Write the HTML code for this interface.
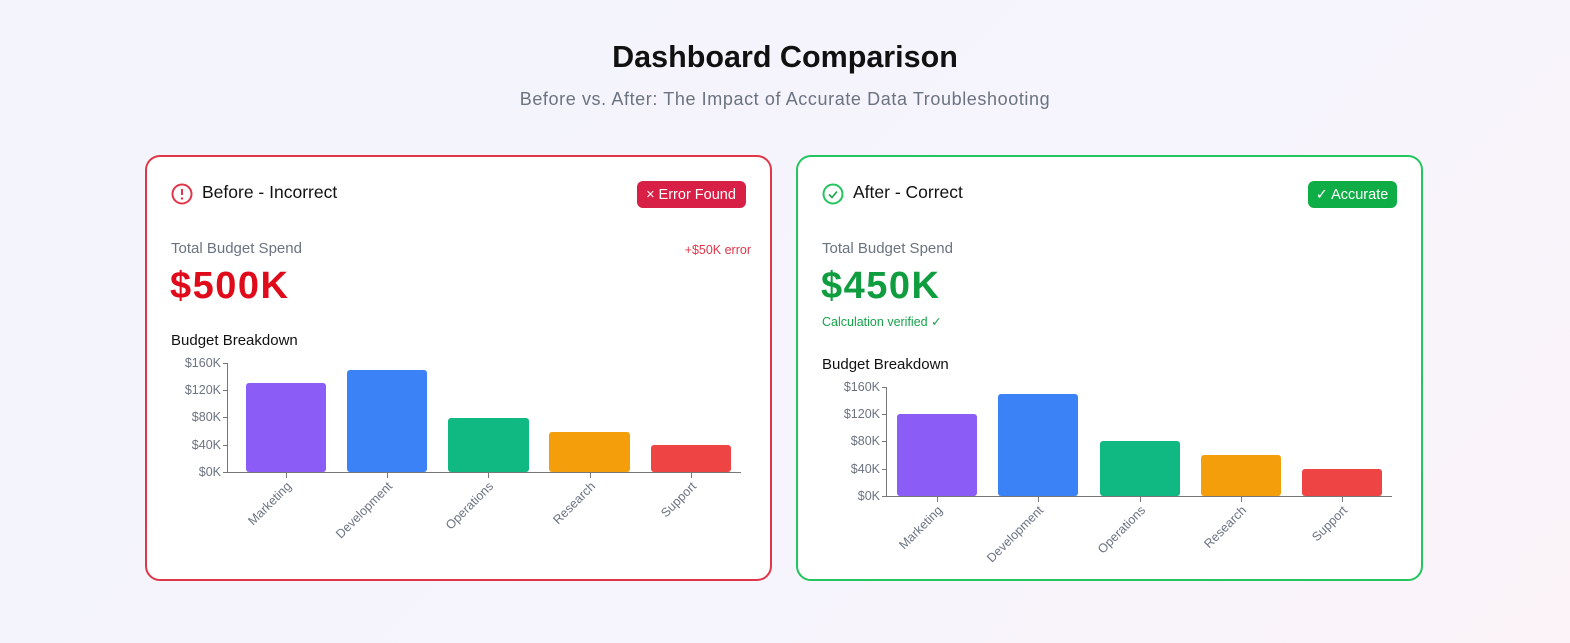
<!DOCTYPE html>
<html><head><meta charset="utf-8"><style>
html,body{margin:0;padding:0;width:1570px;height:643px;overflow:hidden;background:linear-gradient(135deg,#f3f4fc 0%,#f6f4fc 60%,#fbf3f8 100%);}
svg{display:block;font-family:"Liberation Sans",sans-serif;}
</style></head><body>
<svg width="1570" height="643" viewBox="0 0 1570 643">
<text x="785" y="67" text-anchor="middle" font-size="30.5" font-weight="bold" fill="#111">Dashboard Comparison</text>
<text x="785" y="105" text-anchor="middle" font-size="18" letter-spacing="0.6" fill="#6b7280">Before vs. After: The Impact of Accurate Data Troubleshooting</text>

<!-- Left card -->
<rect x="146" y="156" width="625" height="424" rx="14" fill="#fff" stroke="#e0364a" stroke-width="2"/>
<circle cx="182" cy="194" r="9.5" fill="none" stroke="#e0364a" stroke-width="2"/>
<line x1="182" y1="189" x2="182" y2="195" stroke="#e0364a" stroke-width="2"/>
<circle cx="182" cy="198.5" r="1.2" fill="#e0364a"/>
<text x="202" y="198" font-size="17.5" fill="#111">Before - Incorrect</text>
<rect x="637" y="181" width="109" height="27" rx="6" fill="#d81f45"/>
<text x="691" y="199" text-anchor="middle" font-size="14.5" fill="#fff">× Error Found</text>
<text x="171" y="253" font-size="15" fill="#6b7280">Total Budget Spend</text>
<text x="751" y="254" text-anchor="end" font-size="12.5" fill="#e0364a">+$50K error</text>
<text x="170" y="298" font-size="38" font-weight="bold" letter-spacing="1.5" fill="#e00b1a">$500K</text>
<text x="171" y="345" font-size="15" fill="#111">Budget Breakdown</text>
<g font-size="12.5" fill="#6b7280" text-anchor="end">
<text x="221" y="367">$160K</text><text x="221" y="394">$120K</text><text x="221" y="421">$80K</text><text x="221" y="449">$40K</text><text x="221" y="476">$0K</text>
</g>
<g stroke="#777" stroke-width="1">
<line x1="227.5" y1="363" x2="227.5" y2="472"/><line x1="227" y1="472.5" x2="741" y2="472.5"/>
<line x1="223" y1="363.5" x2="227" y2="363.5"/><line x1="223" y1="390.5" x2="227" y2="390.5"/><line x1="223" y1="417.5" x2="227" y2="417.5"/><line x1="223" y1="445.5" x2="227" y2="445.5"/><line x1="223" y1="472.5" x2="227" y2="472.5"/>
<line x1="286.5" y1="472" x2="286.5" y2="478"/><line x1="387.5" y1="472" x2="387.5" y2="478"/><line x1="488.5" y1="472" x2="488.5" y2="478"/><line x1="590.5" y1="472" x2="590.5" y2="478"/><line x1="691.5" y1="472" x2="691.5" y2="478"/>
</g>
<rect x="246" y="383" width="80" height="89" rx="3" fill="#8b5cf6"/>
<rect x="347" y="370" width="80" height="102" rx="3" fill="#3b82f6"/>
<rect x="448" y="418" width="81" height="54" rx="3" fill="#10b981"/>
<rect x="549" y="432" width="81" height="40" rx="3" fill="#f59e0b"/>
<rect x="651" y="445" width="80" height="27" rx="3" fill="#ef4444"/>
<g font-size="12.5" fill="#6b7280" text-anchor="end">
<text transform="translate(292,487) rotate(-45)">Marketing</text>
<text transform="translate(393,487) rotate(-45)">Development</text>
<text transform="translate(494,487) rotate(-45)">Operations</text>
<text transform="translate(596,487) rotate(-45)">Research</text>
<text transform="translate(697,487) rotate(-45)">Support</text>
</g>

<!-- Right card -->
<rect x="797" y="156" width="625" height="424" rx="14" fill="#fff" stroke="#22c55e" stroke-width="2"/>
<circle cx="833" cy="194" r="9.5" fill="none" stroke="#22c55e" stroke-width="2"/>
<path d="M829 194.5 l3 3 l5 -6" fill="none" stroke="#16a34a" stroke-width="1.6"/>
<text x="853" y="198" font-size="17.5" fill="#111">After - Correct</text>
<rect x="1308" y="181" width="89" height="27" rx="6" fill="#0fad45"/>
<text x="1352" y="199" text-anchor="middle" font-size="14.5" fill="#fff">✓ Accurate</text>
<text x="822" y="253" font-size="15" fill="#6b7280">Total Budget Spend</text>
<text x="821" y="298" font-size="38" font-weight="bold" letter-spacing="1.5" fill="#0f9d3f">$450K</text>
<text x="822" y="326" font-size="12.5" fill="#16a34a">Calculation verified ✓</text>
<text x="822" y="369" font-size="15" fill="#111">Budget Breakdown</text>
<g font-size="12.5" fill="#6b7280" text-anchor="end">
<text x="880" y="391">$160K</text><text x="880" y="418">$120K</text><text x="880" y="445">$80K</text><text x="880" y="473">$40K</text><text x="880" y="500">$0K</text>
</g>
<g stroke="#777" stroke-width="1">
<line x1="886.5" y1="387" x2="886.5" y2="496"/><line x1="886" y1="496.5" x2="1392" y2="496.5"/>
<line x1="882" y1="387.5" x2="886" y2="387.5"/><line x1="882" y1="414.5" x2="886" y2="414.5"/><line x1="882" y1="441.5" x2="886" y2="441.5"/><line x1="882" y1="469.5" x2="886" y2="469.5"/><line x1="882" y1="496.5" x2="886" y2="496.5"/>
<line x1="937.5" y1="496" x2="937.5" y2="502"/><line x1="1038.5" y1="496" x2="1038.5" y2="502"/><line x1="1140.5" y1="496" x2="1140.5" y2="502"/><line x1="1241.5" y1="496" x2="1241.5" y2="502"/><line x1="1342.5" y1="496" x2="1342.5" y2="502"/>
</g>
<rect x="897" y="414" width="80" height="82" rx="3" fill="#8b5cf6"/>
<rect x="998" y="394" width="80" height="102" rx="3" fill="#3b82f6"/>
<rect x="1100" y="441" width="80" height="55" rx="3" fill="#10b981"/>
<rect x="1201" y="455" width="80" height="41" rx="3" fill="#f59e0b"/>
<rect x="1302" y="469" width="80" height="27" rx="3" fill="#ef4444"/>
<g font-size="12.5" fill="#6b7280" text-anchor="end">
<text transform="translate(943,511) rotate(-45)">Marketing</text>
<text transform="translate(1044,511) rotate(-45)">Development</text>
<text transform="translate(1146,511) rotate(-45)">Operations</text>
<text transform="translate(1247,511) rotate(-45)">Research</text>
<text transform="translate(1348,511) rotate(-45)">Support</text>
</g>
</svg>
</body></html>
